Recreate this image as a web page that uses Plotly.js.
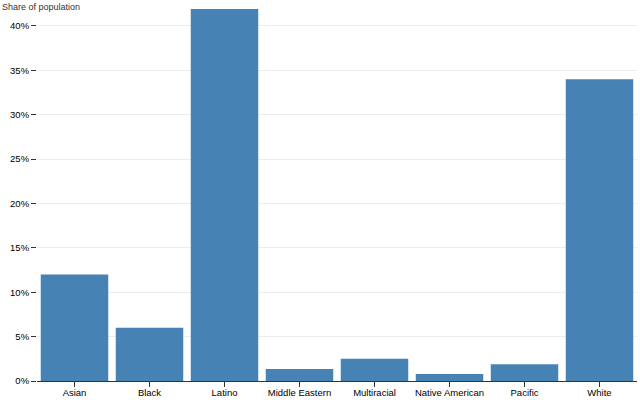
<!DOCTYPE html>
<html><head><meta charset="utf-8">
<script src="https://cdn.plot.ly/plotly-3.0.1.min.js"></script>
<style>body{margin:0;background:#fff}#chart{width:640px;height:400px}</style>
</head><body><div id="chart"></div>
<script>
const categories = ["Asian","Black","Latino","Middle Eastern","Multiracial","Native American","Pacific","White"];
const shares = [0.12, 0.06, 0.419, 0.0135, 0.025, 0.008, 0.019, 0.34];
const yTicks = [0,0.05,0.10,0.15,0.20,0.25,0.30,0.35,0.40];

Plotly.newPlot('chart', [{
  type: 'bar', x: categories, y: shares,
  marker: {color: '#4682b4'}, hoverinfo: 'x+y'
}], {
  width: 640, height: 400,
  margin: {l: 37, r: 3, t: 9, b: 19},
  bargap: 0.1,
  paper_bgcolor: '#fff', plot_bgcolor: '#fff',
  font: {family: 'Liberation Sans, Arial, sans-serif', size: 9.5, color: '#000'},
  xaxis: {showline: true, linecolor: '#333', linewidth: 1, ticks: 'outside', ticklen: 5, tickcolor: '#333', showgrid: false,
          tickfont: {size: 9.5}, ticklabelstandoff: -2},
  yaxis: {range: [0, 0.419], tickvals: yTicks, tickformat: '.0%', ticks: 'outside', ticklen: 5, tickcolor: '#333',
          showgrid: true, gridcolor: '#ececec', zeroline: false, showline: false, tickfont: {size: 9.5}},
  annotations: [{text: 'Share of population', xref: 'paper', yref: 'paper', x: 0, y: 1, xshift: -37, yshift: 9,
                 xanchor: 'left', yanchor: 'top', showarrow: false, font: {size: 9, color: '#333'}}],
  showlegend: false
}, {displayModeBar: false, staticPlot: true});
</script></body></html>
